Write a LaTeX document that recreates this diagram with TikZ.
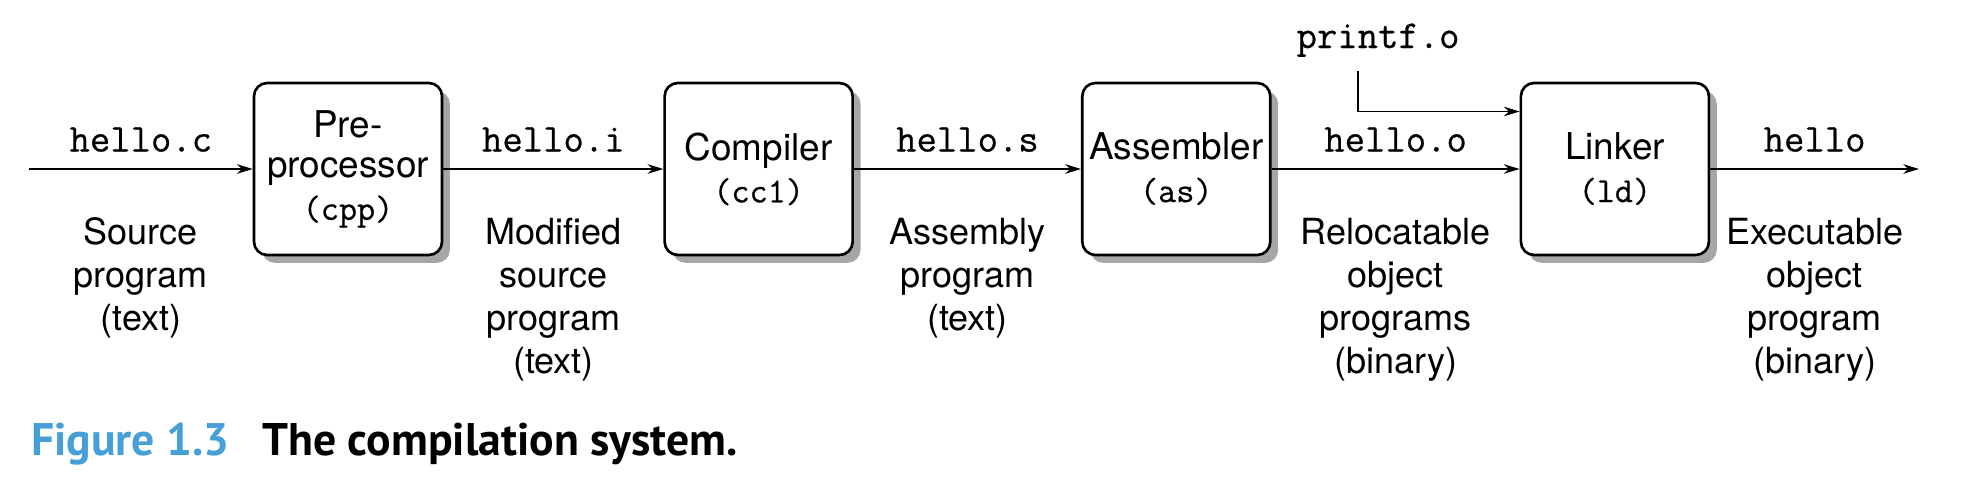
\documentclass[tikz,border=0pt]{standalone}
\usepackage{fontspec}
\setmainfont{TeX Gyre Heros}
\setmonofont{Latin Modern Mono}[FakeBold=0.6]
\newfontfamily\capfont{PT Sans}
\usepackage{tikz}
\usetikzlibrary{positioning,arrows.meta,shadows}

\definecolor{figblue}{RGB}{70,160,215}

\newcommand{\boxtt}[1]{{\fontsize{20}{23}\selectfont\ttfamily\bfseries #1}}

\begin{document}
\begin{tikzpicture}[
  node distance=4.5cm,
  stage/.style={draw, line width=1.5pt, rounded corners=7.5pt, fill=white,
                minimum width=3.76cm, minimum height=3.44cm, align=center,
                font=\fontsize{21}{23}\selectfont,
                drop shadow={shadow xshift=4.5pt, shadow yshift=-4.5pt,
                             fill=black!35, opacity=1}},
  code/.style={font=\fontsize{22.5}{24}\selectfont\ttfamily\bfseries, inner sep=0pt},
  desc/.style={align=center, inner sep=0pt, font=\fontsize{20.5}{24.5}\selectfont},
  arrow/.style={-{Stealth[length=9pt, width=5.5pt]}, line width=0.8pt}
]
  \useasboundingbox (0,0) rectangle (39.4,9.6);

  \node[stage] (cpp) at (6.96,6.22) {Pre-\\processor\\[1pt]\boxtt{(cpp)}};
  \node[stage, right=4.40cm of cpp] (cc1) {Compiler\\[1pt]\boxtt{(cc1)}};
  \node[stage, right=4.54cm of cc1] (as) {Assembler\\[1pt]\boxtt{(as)}};
  \node[stage, right=4.96cm of as] (ld) {Linker\\[1pt]\boxtt{(ld)}};

  \coordinate (src) at (0.58,6.22);
  \coordinate (exe) at (38.38,6.22);
  \coordinate (bend) at (27.16,7.37);

  \draw[arrow] (src) -- node[code, above=0.33cm] (hc) {hello.c} (cpp);
  \draw[arrow] (cpp) -- node[code, above=0.33cm] (hi) {hello.i} (cc1);
  \draw[arrow] (cc1) -- node[code, above=0.33cm] (hs) {hello.s} (as);
  \draw[arrow] (as) -- node[code, above=0.33cm] (ho) {hello.o} (ld);
  \draw[arrow] (ld) -- node[code, above=0.33cm] (hx) {hello} (exe);

  \node[code, anchor=base] (pf) at (27.56,8.64) {printf.o};
  \draw[arrow] (pf.south -| bend) ++(0,-0.27) -- (bend) -- (bend -| ld.west);

  \node[desc, below=1.3cm of hc] {Source\\program\\(text)};
  \node[desc, below=1.3cm of hi] {Modified\\source\\program\\(text)};
  \node[desc, below=1.3cm of hs] {Assembly\\program\\(text)};
  \node[desc, below=1.3cm of ho] {Relocatable\\object\\programs\\(binary)};
  \node[desc, below=1.3cm of hx] {Executable\\object\\program\\(binary)};

  \node[anchor=base west, inner sep=0pt, font=\capfont\bfseries\fontsize{26}{28}\selectfont]
    (cap) at (0.62,0.5) {\textcolor{figblue}{Figure 1.3}\hspace{0.65cm}The compilation system.};
\end{tikzpicture}
\end{document}
